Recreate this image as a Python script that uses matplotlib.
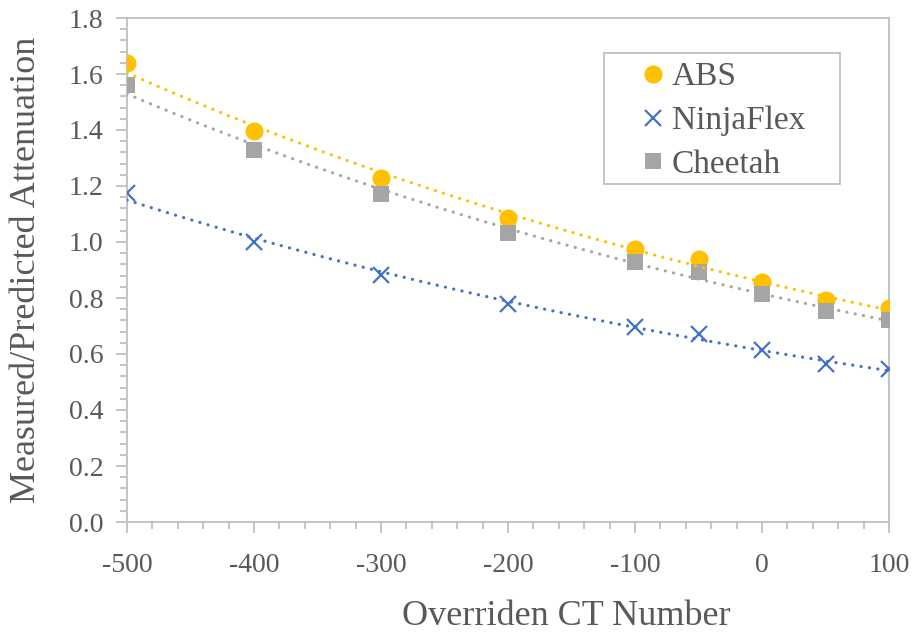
import matplotlib
matplotlib.use('Agg')
import matplotlib.pyplot as plt
import numpy as np
from matplotlib.patches import Rectangle
from matplotlib.ticker import MultipleLocator, FormatStrFormatter

# CT number overrides and attenuation ratios
ct_number = [-500, -400, -300, -200, -100, -50, 0, 50, 100]
abs_ratio = [1.640, 1.397, 1.230, 1.085, 0.975, 0.939, 0.857, 0.792, 0.763]
ninjaflex_ratio = [1.175, 1.000, 0.882, 0.777, 0.697, 0.670, 0.613, 0.565, 0.545]
cheetah_ratio = [1.560, 1.330, 1.172, 1.033, 0.929, 0.893, 0.815, 0.752, 0.722]

text_col = '#595959'
axis_col = '#BFBFBF'

plt.rcParams['font.family'] = ['Liberation Serif', 'DejaVu Serif']
plt.rcParams['axes.unicode_minus'] = False

W, H = 915, 634
fig = plt.figure(figsize=(W / 100, H / 100), dpi=100)
ax = fig.add_axes([127 / W, 1 - 522 / H, 762 / W, 504 / H])

x = np.array(ct_number, dtype=float)
series = [
    ('ABS', abs_ratio, '#FFC000', 'o', 13),
    ('NinjaFlex', ninjaflex_ratio, '#4472C4', 'x', 11),
    ('Cheetah', cheetah_ratio, '#A5A5A5', 's', 12),
]

for name, vals, col, mk, ms in series:
    ew = 1.6 if mk == 'x' else 0
    ax.plot(x, vals, linestyle='none', marker=mk, markersize=ms, color=col,
            markeredgewidth=ew, label=name, zorder=3)

# exponential trendlines
xs = np.linspace(-500, 100, 200)
for name, vals, col, mk, ms in series:
    b, a = np.polyfit(x, np.log(vals), 1)
    ax.plot(xs, np.exp(a + b * xs), color=col, linewidth=2.3,
            linestyle=(0, (0.05, 2.6)), dash_capstyle='round', zorder=4)

ax.set_xlim(-500, 100)
ax.set_ylim(0, 1.8)
ax.xaxis.set_major_locator(MultipleLocator(100))
ax.xaxis.set_minor_locator(MultipleLocator(20))
ax.yaxis.set_major_locator(MultipleLocator(0.2))
ax.yaxis.set_minor_locator(MultipleLocator(0.04))
ax.yaxis.set_major_formatter(FormatStrFormatter('%.1f'))

for sp in ax.spines.values():
    sp.set_color(axis_col)
    sp.set_linewidth(1.3)

ax.tick_params(which='major', direction='out', length=8, width=1.3, color=axis_col,
               labelsize=20, labelcolor=text_col, pad=9)
ax.tick_params(which='minor', direction='out', length=5, width=1.3, color=axis_col)
ax.tick_params(axis='x', which='major', pad=14)

ax.set_xlabel('Overriden CT Number', fontsize=26, color=text_col)
ax.xaxis.set_label_coords(0.576, -0.155)
ax.set_ylabel('Measured/Predicted Attenuation', fontsize=26, color=text_col)
ax.yaxis.set_label_coords(-0.11, 0.5)

# legend box with wide side padding
box = Rectangle((604 / W, 1 - 184 / H), 236 / W, 131 / H, transform=fig.transFigure,
                facecolor='white', edgecolor=axis_col, linewidth=1.3, zorder=5,
                clip_on=False)
ax.add_patch(box)
leg = ax.legend(loc='center', bbox_to_anchor=(725 / W, 1 - 121 / H),
                bbox_transform=fig.transFigure, fontsize=24, frameon=False,
                labelcolor=text_col, handlelength=0.5, handletextpad=0.3,
                borderpad=0, labelspacing=0.4)
leg.set_zorder(6)

fig.savefig('out.png', dpi=100, facecolor='white')
